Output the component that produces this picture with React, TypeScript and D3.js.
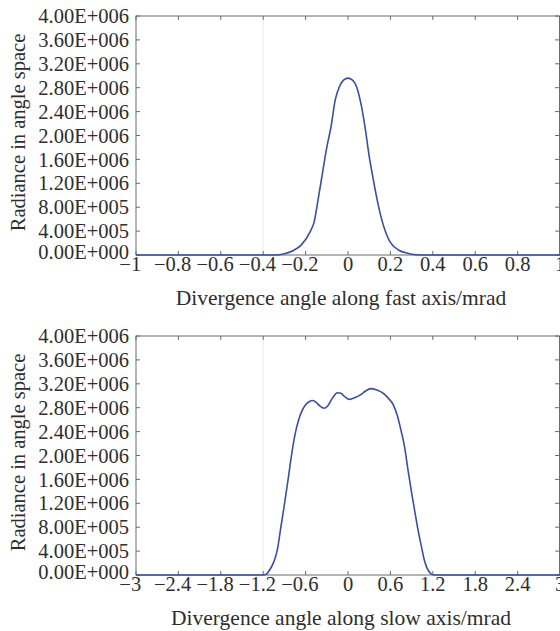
import React from "react";
import * as d3 from "d3";

// ---------- data ----------
const fastX = [-1, -0.34, -0.3, -0.26, -0.22, -0.18, -0.16, -0.14, -0.12, -0.1, -0.08, -0.06, -0.04, -0.02, 0, 0.02, 0.04, 0.06, 0.08, 0.1, 0.12, 0.14, 0.16, 0.18, 0.2, 0.24, 0.28, 0.32, 0.36, 1];
const fastY = [0, 0, 0.02e6, 0.07e6, 0.17e6, 0.38e6, 0.55e6, 0.95e6, 1.38e6, 1.8e6, 2.15e6, 2.6e6, 2.82e6, 2.93e6, 2.96e6, 2.93e6, 2.82e6, 2.55e6, 2.15e6, 1.65e6, 1.25e6, 0.88e6, 0.58e6, 0.36e6, 0.21e6, 0.08e6, 0.03e6, 0.005e6, 0, 0];

const slowX = [-3, -1.2, -1.15, -1.1, -1.05, -1.0, -0.95, -0.9, -0.85, -0.8, -0.75, -0.7, -0.65, -0.6, -0.55, -0.5, -0.45, -0.4, -0.33, -0.28, -0.22, -0.15, -0.1, -0.05, 0.02, 0.1, 0.17, 0.25, 0.32, 0.4, 0.5, 0.57, 0.64, 0.7, 0.75, 0.8, 0.85, 0.9, 0.95, 1.0, 1.04, 1.08, 1.11, 1.15, 1.19, 1.22, 3];
const slowY = [0, 0, 0.02e6, 0.1e6, 0.22e6, 0.42e6, 0.8e6, 1.18e6, 1.58e6, 2.0e6, 2.35e6, 2.59e6, 2.75e6, 2.85e6, 2.9e6, 2.92e6, 2.89e6, 2.83e6, 2.79e6, 2.84e6, 2.96e6, 3.05e6, 3.04e6, 2.99e6, 2.94e6, 2.97e6, 3.01e6, 3.08e6, 3.12e6, 3.1e6, 3.04e6, 2.96e6, 2.85e6, 2.66e6, 2.42e6, 2.15e6, 1.75e6, 1.38e6, 1.03e6, 0.7e6, 0.47e6, 0.25e6, 0.14e6, 0.05e6, 0.01e6, 0, 0];

const fastTicks = [-1, -0.8, -0.6, -0.4, -0.2, 0, 0.2, 0.4, 0.6, 0.8, 1];
const slowTicks = [-3, -2.4, -1.8, -1.2, -0.6, 0, 0.6, 1.2, 1.8, 2.4, 3];
const yTicks = [0, 4e5, 8e5, 1.2e6, 1.6e6, 2.0e6, 2.4e6, 2.8e6, 3.2e6, 3.6e6, 4.0e6];

const yTitle = "Radiance in angle space";
const fastTitle = "Divergence angle along fast axis/mrad";
const slowTitle = "Divergence angle along slow axis/mrad";

// ---------- helpers ----------
function fmtE(v: number): string {
  if (v === 0) return "0.00E+000";
  const e = Math.floor(Math.log10(v));
  const m = v / Math.pow(10, e);
  return m.toFixed(2) + "E+" + String(e).padStart(3, "0");
}
function fmtX(v: number): string {
  const s = String(Math.round(v * 10) / 10);
  return v < 0 ? "\u2212" + s.slice(1) : s;
}

const FONT = "'Liberation Serif', 'Times New Roman', serif";
const TXT = "#2e2e2e";
const FRAME = "#6b6b6b";
const LINE = "#3a4ca8";

type PanelProps = {
  top: number;
  xs: number[];
  ys: number[];
  xTicks: number[];
  xDomain: [number, number];
  xTitle: string;
  faintAt: number;
};

const L = 136, R = 560, H = 239;

function Panel({ top, xs, ys, xTicks, xDomain, xTitle, faintAt }: PanelProps) {
  const bottom = top + H;
  const x = d3.scaleLinear().domain(xDomain).range([L, R]);
  const y = d3.scaleLinear().domain([0, 4e6]).range([bottom, top]);
  const pts = xs.map((v, i) => [v, ys[i]] as [number, number]);
  const line = d3.line<[number, number]>().x(d => x(d[0])).y(d => y(d[1])).curve(d3.curveMonotoneX);
  const tl = 4;
  return (
    <g>
      <line x1={x(faintAt)} x2={x(faintAt)} y1={top} y2={bottom} stroke="#ececec" strokeWidth={1} />
      {/* frame */}
      <rect x={L} y={top} width={R - L - 0.5} height={H} fill="none" stroke={FRAME} strokeWidth={1} />
      {/* x ticks */}
      {xTicks.map(t => (
        <g key={"xt" + t}>
          <line x1={x(t)} x2={x(t)} y1={bottom} y2={bottom - tl} stroke={FRAME} />
          <line x1={x(t)} x2={x(t)} y1={top} y2={top + tl} stroke={FRAME} />
          <text x={x(t)} y={bottom + 16} dx={t < 0 ? "-0.28em" : 0} textAnchor="middle" fontFamily={FONT} fontSize={20.5} fill={TXT}>
            {fmtX(t)}
          </text>
        </g>
      ))}
      {/* y ticks */}
      {yTicks.map(t => (
        <g key={"yt" + t}>
          <line x1={L} x2={L + tl} y1={y(t)} y2={y(t)} stroke={FRAME} />
          <line x1={R - 1} x2={R - 1 - tl} y1={y(t)} y2={y(t)} stroke={FRAME} />
          <text x={L - 7} y={y(t) - (t === 0 ? 3 : 0)} dy="0.35em" textAnchor="end" fontFamily={FONT} fontSize={20.5} fill={TXT}>
            {fmtE(t)}
          </text>
        </g>
      ))}
      <path d={line(pts) || ""} fill="none" stroke={LINE} strokeWidth={1.6} />
      <text x={(L + R) / 2 - 7} y={bottom + 50} textAnchor="middle" fontFamily={FONT} fontSize={21.5} fill={TXT}>
        {xTitle}
      </text>
      <text transform={`translate(25,${(top + bottom) / 2 - 3}) rotate(-90)`} textAnchor="middle" fontFamily={FONT} fontSize={20.5} fill={TXT}>
        {yTitle}
      </text>
    </g>
  );
}

export default function App() {
  return (
    <svg width={560} height={631} style={{ position: "absolute", left: 0, top: 0, background: "#fff" }}>
      <rect width={560} height={631} fill="#fff" />
      <Panel top={16} xs={fastX} ys={fastY} xTicks={fastTicks} xDomain={[-1, 1]} xTitle={fastTitle} faintAt={-0.4} />
      <Panel top={336} xs={slowX} ys={slowY} xTicks={slowTicks} xDomain={[-3, 3]} xTitle={slowTitle} faintAt={-1.2} />
    </svg>
  );
}
